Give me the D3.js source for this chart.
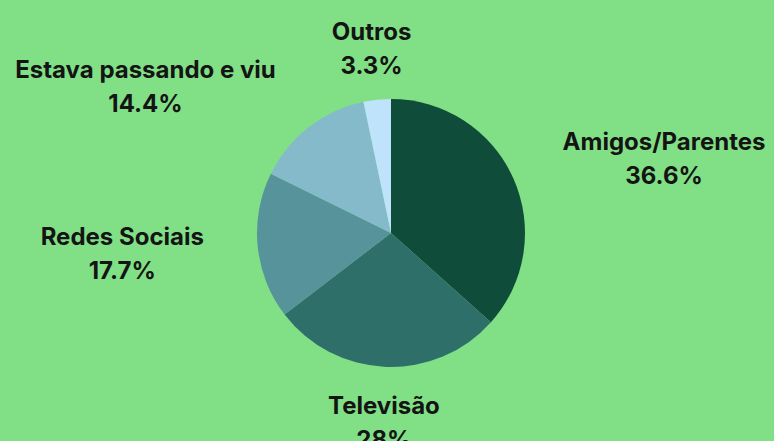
<!DOCTYPE html>
<html><head><meta charset="utf-8">
<script src="https://cdn.jsdelivr.net/npm/d3@7"></script>
<style>html,body{margin:0;padding:0;background:#81e086;}svg{display:block}</style>
</head><body>
<svg id="chart" width="774" height="441"></svg>
<script>
const categories = ["Amigos/Parentes", "Televisão", "Redes Sociais", "Estava passando e viu", "Outros"];
const values = [36.6, 28, 17.7, 14.4, 3.3];
const valueLabels = ["36.6%", "28%", "17.7%", "14.4%", "3.3%"];
const colors = ["#0f4c3a", "#2e6f69", "#56939b", "#85bacb", "#bee3fb"];

const svg = d3.select("#chart");
const W = 774, H = 441, cx = 391, cy = 233, R = 134, LR = 188;
svg.append("rect").attr("width", W).attr("height", H).attr("fill", "#81e086");

const data = categories.map((c, i) => ({c, v: values[i], l: valueLabels[i], col: colors[i]}));
const pie = d3.pie().value(d => d.v).sort(null);
const arcs = pie(data);
const arc = d3.arc().innerRadius(0).outerRadius(R);
const g = svg.append("g").attr("transform", `translate(${cx},${cy})`);
g.selectAll("path").data(arcs).join("path").attr("d", arc).attr("fill", d => d.data.col);

g.selectAll("text.lab").data(arcs).join("text")
  .attr("class", "lab")
  .attr("font-family", "Inter, 'Noto Sans', sans-serif")
  .attr("font-weight", 700).attr("font-size", 24).attr("fill", "#141414")
  .attr("text-anchor", "middle")
  .each(function(d) {
    const a = (d.startAngle + d.endAngle) / 2;
    const sx = Math.sin(a), sy = -Math.cos(a);
    const t = d3.select(this);
    const s1 = t.append("tspan").text(d.data.c);
    const s2 = t.append("tspan").text(d.data.l);
    const w = Math.max(s1.node().getComputedTextLength(), s2.node().getComputedTextLength());
    let x = sx * LR;
    const y = sy * LR + 1.5;
    if (Math.abs(sx) >= 0.3) x += (sx > 0 ? 1 : -1) * w / 2;
    s1.attr("x", x).attr("y", y - 17 + 9);
    s2.attr("x", x).attr("y", y + 17 + 9);
  });
</script>
</body></html>
